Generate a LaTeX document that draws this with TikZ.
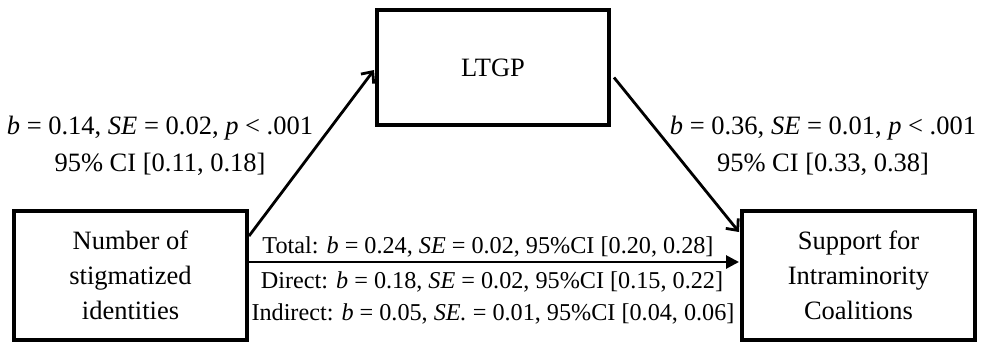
\documentclass[tikz,border=0pt]{standalone}
\usepackage{fontspec}
\setmainfont{Liberation Serif}
\usetikzlibrary{arrows.meta,calc}
\begin{document}
\begin{tikzpicture}[x=1pt,y=-1pt,
  box/.style={draw,line width=4pt,rectangle,inner sep=0pt,align=center,
    font=\fontsize{26.5}{35}\selectfont},
  lab/.style={align=center,inner sep=0pt,font=\fontsize{26.5}{37}\selectfont},
  small/.style={inner sep=0pt,font=\fontsize{24.2}{28}\selectfont},
  barb/.style={line width=2.8pt,-{Straight Barb[length=9pt,width=16pt,line width=2.8pt]}},
  tri/.style={line width=2.8pt,-{Triangle[length=13pt,width=13pt]}}]
\useasboundingbox (0,0) rectangle (982,342);
\node[box,minimum width=233pt,minimum height=129pt] (L) at (130.5,275.5) {Number of\\stigmatized\\identities};
\node[box,minimum width=232pt,minimum height=115pt] (M) at (493,67.5) {LTGP};
\node[box,minimum width=233pt,minimum height=129pt] (R) at (858.5,275.5) {Support for\\Intraminority\\Coalitions};
\coordinate (a1) at ([yshift=-27pt]L.north east);
\coordinate (a2) at ([yshift=-2.5pt,xshift=-1pt]M.west);
\coordinate (b1) at ([yshift=-10pt,xshift=3pt]M.east);
\coordinate (b2) at ([yshift=-23pt,xshift=-1pt]R.north west);
\coordinate (c1) at ([yshift=13.5pt]L.east);
\coordinate (c2) at ([xshift=-1pt]R.west |- c1);
\draw[barb] (a1) -- (a2);
\draw[barb] (b1) -- (b2);
\draw[tri] (c1) -- (c2);
\node[lab] (t1) at (160,146) {\textit{b} = 0.14, \textit{SE} = 0.02, \textit{p} < .001\\95\% CI [0.11, 0.18]};
\node[lab] (t2) at (823,146) {\textit{b} = 0.36, \textit{SE} = 0.01, \textit{p} < .001\\95\% CI [0.33, 0.38]};
\node[small] (d1) at (488,247) {Total: \textit{b} = 0.24, \textit{SE} = 0.02, 95\%CI [0.20, 0.28]};
\node[small] (d2) at (492,282) {Direct: \textit{b} = 0.18, \textit{SE} = 0.02, 95\%CI [0.15, 0.22]};
\node[small] (d3) at (493,314) {Indirect: \textit{b} = 0.05, \textit{SE.} = 0.01, 95\%CI [0.04, 0.06]};
\end{tikzpicture}
\end{document}
